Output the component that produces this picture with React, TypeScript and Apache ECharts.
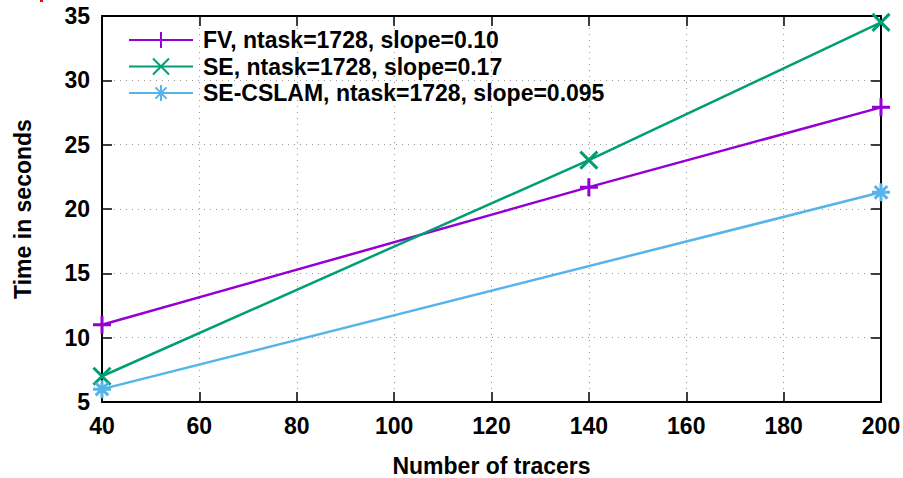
import React, { useEffect, useRef } from "react";
import * as echarts from "echarts";

const xTicks = [40, 60, 80, 100, 120, 140, 160, 180, 200];
const fvX = [40, 140, 200];
const fvY = [11.0, 21.7, 27.9];
const seX = [40, 140, 200];
const seY = [7.0, 23.8, 34.5];
const cslamX = [40, 200];
const cslamY = [6.0, 21.3];
const seriesNames = [
  "FV, ntask=1728, slope=0.10",
  "SE, ntask=1728, slope=0.17",
  "SE-CSLAM, ntask=1728, slope=0.095",
];
const colors = ["#9400D3", "#009E73", "#56B4E9"];

const PLUS = "path://M5,0 L5,10 M0,5 L10,5";
const CROSS = "path://M0,0 L10,10 M0,10 L10,0";
const STAR = "path://M5,0 L5,10 M0,5 L10,5 M1.5,1.5 L8.5,8.5 M1.5,8.5 L8.5,1.5";

const font = "'Liberation Sans', Arial, sans-serif";
const FS = 23;

export default function App() {
  const ref = useRef<HTMLDivElement>(null);
  useEffect(() => {
    const chart = echarts.init(ref.current!, undefined, { renderer: "svg" });
    const mk = (name: string, xs: number[], ys: number[], color: string, sym: string, size: number) => ({
      name,
      type: "line",
      data: xs.map((x, i) => [x, ys[i]]),
      symbol: sym,
      symbolSize: size,
      showAllSymbol: true,
      lineStyle: { color, width: 2.5 },
      itemStyle: { color, borderColor: color, borderWidth: 3 },
      z: 5,
    });
    const axisCommon = {
      type: "value",
      min: 40,
      max: 200,
      interval: 20,
    };
    const lineSt = { color: "#000", width: 2 };
    const tickSt = { show: true, inside: true, length: 10, lineStyle: { color: "#000", width: 1.5 } };
    const labelFont = { fontFamily: font, fontSize: FS, fontWeight: "bold", color: "#000" };
    chart.setOption({
      animation: false,
      backgroundColor: "#fff",
      textStyle: { fontFamily: font },
      grid: { left: 102, right: 22, top: 16, bottom: 76, containLabel: false, outerBoundsMode: "none" },
      legend: {
        orient: "vertical",
        left: 128,
        top: 27,
        padding: 0,
        itemWidth: 64,
        itemHeight: 20,
        itemGap: 0.5,
        textStyle: { ...labelFont, lineHeight: 26, padding: [0, 0, 0, 5] },
        data: seriesNames,
      },
      xAxis: [
        {
          ...axisCommon,
          position: "bottom",
          name: "Number of tracers",
          nameLocation: "middle",
          nameGap: 52,
          nameTextStyle: labelFont,
          axisLine: { show: true, onZero: false, lineStyle: lineSt },
          axisTick: tickSt,
          axisLabel: {
            margin: 12,
            ...labelFont,
            formatter: (v: number) => (xTicks.includes(v) ? String(v) : ""),
          },
          splitLine: { show: true, lineStyle: { color: "#999", width: 1, type: [1, 5] } },
        },
        {
          ...axisCommon,
          position: "top",
          axisLine: { show: true, onZero: false, lineStyle: lineSt },
          axisTick: tickSt,
          axisLabel: { show: false },
          splitLine: { show: false },
        },
      ],
      yAxis: [
        {
          type: "value",
          min: 5,
          max: 35,
          interval: 5,
          position: "left",
          name: "Time in seconds",
          nameLocation: "middle",
          nameGap: 68,
          nameRotate: 90,
          nameTextStyle: labelFont,
          axisLine: { show: true, onZero: false, lineStyle: lineSt },
          axisTick: tickSt,
          axisLabel: { margin: 12, ...labelFont },
          splitLine: { show: true, lineStyle: { color: "#999", width: 1, type: [1, 5] } },
        },
        {
          type: "value",
          min: 5,
          max: 35,
          interval: 5,
          position: "right",
          axisLine: { show: true, onZero: false, lineStyle: lineSt },
          axisTick: tickSt,
          axisLabel: { show: false },
          splitLine: { show: false },
        },
      ],
      graphic: [
        { type: "rect", left: 40, top: 0, shape: { width: 3, height: 2 }, style: { fill: "#f00" } },
      ],
      series: [
        mk(seriesNames[0], fvX, fvY, colors[0], PLUS, 18),
        mk(seriesNames[1], seX, seY, colors[1], CROSS, 17),
        mk(seriesNames[2], cslamX, cslamY, colors[2], STAR, 18),
      ],
    });
    return () => chart.dispose();
  }, []);
  return <div ref={ref} style={{ width: 903, height: 478, position: "absolute", left: 0, top: 0 }} />;
}
